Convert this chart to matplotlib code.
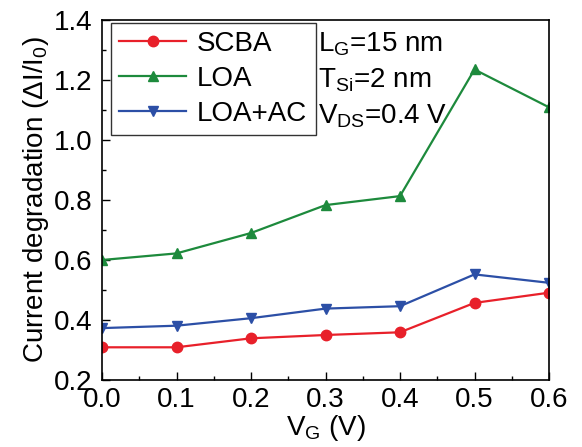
import matplotlib
matplotlib.use("Agg")
import matplotlib.pyplot as plt

plt.rcParams['font.family'] = ['Liberation Sans', 'DejaVu Sans']
plt.rcParams['mathtext.fontset'] = 'custom'
plt.rcParams['mathtext.rm'] = 'Liberation Sans'
plt.rcParams['mathtext.it'] = 'Liberation Sans:italic'
plt.rcParams['mathtext.default'] = 'regular'

vg = [0.0, 0.1, 0.2, 0.3, 0.4, 0.5, 0.6]
scba = [0.309, 0.309, 0.339, 0.350, 0.359, 0.457, 0.491]
loa = [0.600, 0.622, 0.690, 0.783, 0.813, 1.235, 1.109]
loa_ac = [0.373, 0.381, 0.406, 0.438, 0.446, 0.552, 0.524]
labels = ['SCBA', 'LOA', 'LOA+AC']
xticks = [0.0, 0.1, 0.2, 0.3, 0.4, 0.5, 0.6]
yticks = [0.2, 0.4, 0.6, 0.8, 1.0, 1.2, 1.4]

FS = 20

fig = plt.figure(figsize=(5.82, 4.47), dpi=100)
ax = fig.add_axes([102/582, 1-380/447, (549-102)/582, 360/447])

ax.plot(vg, scba, color='#e8202a', marker='o', ms=7.5, lw=1.6, label=labels[0])
ax.plot(vg, loa, color='#1d8a3c', marker='^', ms=7.5, lw=1.6, label=labels[1])
ax.plot(vg, loa_ac, color='#2c4fa6', marker='v', ms=7.5, lw=1.6, label=labels[2])

ax.set_xlim(0, 0.6)
ax.set_ylim(0.2, 1.4)
ax.set_xticks(xticks)
ax.set_yticks(yticks)
ax.set_xticklabels([f'{t:.1f}' for t in xticks])
ax.set_yticklabels([f'{t:.1f}' for t in yticks])
ax.set_xticks([0.05, 0.15, 0.25, 0.35, 0.45, 0.55], minor=True)
ax.set_yticks([0.3, 0.5, 0.7, 0.9, 1.1, 1.3], minor=True)
ax.tick_params(direction='in', which='major', length=6, width=1, labelsize=FS)
ax.tick_params(axis='y', which='major', pad=7)
ax.tick_params(axis='x', which='major', pad=5)
ax.tick_params(direction='in', which='minor', length=3, width=1)
for s in ax.spines.values():
    s.set_linewidth(1.2)

ax.set_xlabel('V$_G$ (V)', fontsize=FS, labelpad=0)
ax.set_ylabel(r'Current degradation ($\Delta$I/I$_0$)', fontsize=FS, labelpad=2)

leg = ax.legend(loc='upper left', bbox_to_anchor=(0.02, 0.992), fontsize=FS,
                frameon=True, fancybox=False, edgecolor='black', handlelength=2.4,
                handletextpad=0.4, borderpad=0.3, labelspacing=0.32, borderaxespad=0)
leg.get_frame().set_linewidth(1.0)

ax.text(0.483, 0.972, 'L$_G$=15 nm', transform=ax.transAxes, fontsize=FS, va='top')
ax.text(0.483, 0.872, 'T$_{Si}$=2 nm', transform=ax.transAxes, fontsize=FS, va='top')
ax.text(0.483, 0.772, 'V$_{DS}$=0.4 V', transform=ax.transAxes, fontsize=FS, va='top')

fig.savefig('out.png', dpi=100)
